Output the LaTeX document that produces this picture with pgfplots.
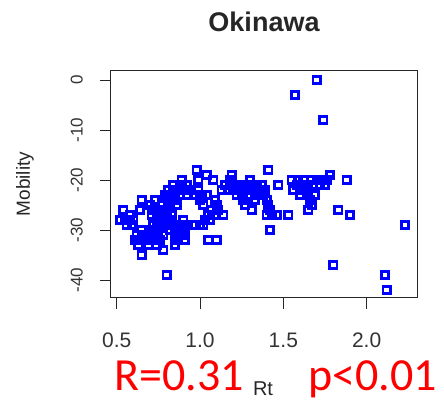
\documentclass[border=0pt]{standalone}
\usepackage{pgfplots}
\pgfplotsset{compat=1.18}
\usepackage{fontspec}
\setmainfont{Liberation Sans}
\newfontfamily\calibri{Carlito}
\definecolor{rblue}{RGB}{0,0,255}
\definecolor{rred}{RGB}{255,0,0}

\pgfplotstableread{
x y
0.52 -28
0.54 -26
0.55 -28
0.56 -29
0.58 -27
0.59 -29
0.60 -28
0.61 -32
0.62 -31
0.63 -33
0.64 -26
0.65 -24
0.65 -35
0.65 -30
0.66 -32
0.68 -31
0.69 -33
0.70 -25
0.70 -30
0.71 -27
0.71 -32
0.72 -29
0.72 -26
0.73 -31
0.73 -24
0.74 -28
0.74 -33
0.75 -30
0.75 -26
0.76 -27
0.76 -32
0.77 -25
0.77 -29
0.78 -34
0.78 -31
0.79 -23
0.79 -27
0.80 -26
0.80 -29
0.80 -39
0.81 -22
0.81 -24
0.82 -28
0.82 -25
0.82 -30
0.83 -23
0.83 -27
0.84 -21
0.84 -29
0.85 -24
0.85 -31
0.85 -33
0.86 -22
0.86 -30
0.86 -25
0.87 -32
0.88 -21
0.88 -23
0.88 -29
0.89 -20
0.89 -31
0.90 -22
0.90 -28
0.91 -30
0.91 -32
0.92 -23
0.92 -21
0.93 -29
0.94 -22
0.96 -29
0.97 -23
0.98 -18
0.99 -20
0.99 -22
1.00 -24
1.00 -29
1.01 -23
1.02 -25
1.02 -29
1.03 -28
1.04 -19
1.04 -23
1.05 -32
1.05 -27
1.06 -28
1.07 -26
1.08 -20
1.09 -24
1.09 -27
1.10 -25
1.10 -32
1.11 -26
1.13 -22
1.14 -27
1.15 -21
1.17 -22
1.18 -20
1.19 -19
1.20 -22
1.21 -21
1.22 -23
1.23 -22
1.24 -21
1.25 -23
1.26 -24
1.27 -21
1.27 -25
1.28 -22
1.29 -23
1.30 -20
1.31 -26
1.31 -21
1.32 -22
1.33 -24
1.34 -21
1.35 -23
1.36 -22
1.37 -21
1.38 -23
1.39 -22
1.40 -24
1.40 -27
1.41 -18
1.41 -25
1.42 -26
1.42 -30
1.43 -27
1.46 -27
1.47 -21
1.53 -27
1.55 -20
1.56 -22
1.57 -3
1.58 -21
1.59 -20
1.60 -23
1.61 -22
1.62 -20
1.63 -21
1.64 -23
1.65 -26
1.65 -22
1.66 -24
1.67 -20
1.67 -25
1.68 -21
1.69 -23
1.70 0
1.70 -20
1.72 -21
1.73 -20
1.74 -8
1.75 -21
1.76 -20
1.78 -19
1.80 -37
1.83 -26
1.88 -20
1.90 -27
2.11 -39
2.12 -42
2.23 -29
}\okinawa

\begin{document}
\begin{tikzpicture}
\useasboundingbox (0,0) rectangle (444pt,-402pt);

\begin{axis}[
    at={(110.7pt,-297.7pt)}, anchor=south west,
    scale only axis,
    width=306.6pt, height=227.7pt,
    xmin=0.464, xmax=2.304,
    ymin=-43.5, ymax=2,
    axis line style={line width=0.9pt, black!85},
    xtick={0.5,1.0,1.5,2.0},
    xticklabels={0.5,1.0,1.5,2.0},
    ytick={-40,-30,-20,-10,0},
    yticklabels={-40,-30,-20,-10,0},
    xtick pos=bottom, ytick pos=left,
    tick align=outside,
    major tick length=11pt,
    tick style={line width=0.9pt, black!85},
    xticklabel style={font=\fontsize{21}{24}\selectfont, text=black!80, anchor=base, yshift=-39pt},
    yticklabel style={font=\fontsize{17}{20}\selectfont, text=black!80, rotate=90, anchor=base, yshift=17pt},
    clip=false,
]
\addplot [only marks, mark=square, mark size=3.6pt,
          mark options={line width=2.8pt, draw=rblue, fill=none}] table {\okinawa};
\end{axis}

\node [font=\bfseries\fontsize{27}{30}\selectfont, text=black!85] at (264pt,-22pt) {Okinawa};
\node [font=\fontsize{19}{22}\selectfont, rotate=90, text=black!85] at (25pt,-184pt) {Mobility};
\node [font=\fontsize{20}{23}\selectfont, text=black!85, anchor=base] at (263pt,-395pt) {Rt};
\node [font=\calibri\fontsize{46}{50}\selectfont, text=rred, anchor=base west, inner sep=0pt] at (114pt,-390pt) {R=0.31};
\node [font=\calibri\fontsize{46}{50}\selectfont, text=rred, anchor=base west, inner sep=0pt] at (308pt,-390pt) {p<0.01};
\end{tikzpicture}
\end{document}
